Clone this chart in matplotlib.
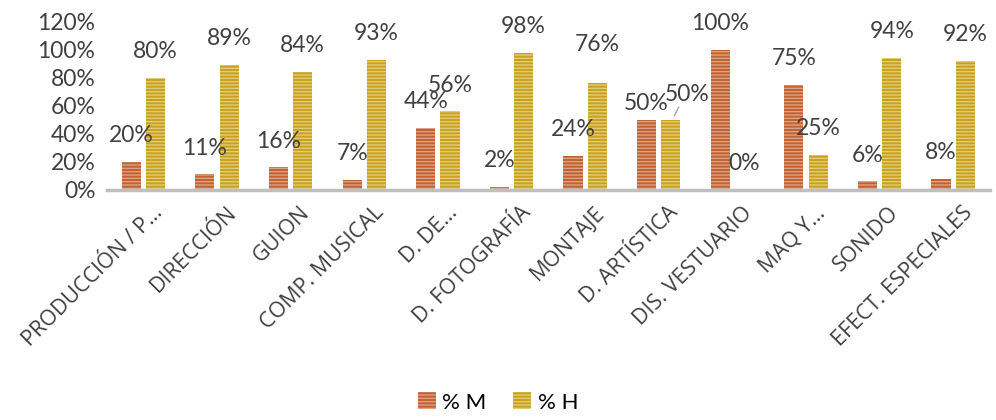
import matplotlib.pyplot as plt
import numpy as np

plt.rcParams["hatch.linewidth"] = 1.0

categories = ["PRODUCCIÓN / P…", "DIRECCIÓN", "GUION", "COMP. MUSICAL", "D. DE…",
              "D. FOTOGRAFÍA", "MONTAJE", "D. ARTÍSTICA", "DIS. VESTUARIO", "MAQ Y…",
              "SONIDO", "EFECT. ESPECIALES"]
pct_m = [20, 11, 16, 7, 44, 2, 24, 50, 100, 75, 6, 8]
pct_h = [80, 89, 84, 93, 56, 98, 76, 50, 0, 25, 94, 92]

# label offsets in points (dx, dy) from the bar top
off_m = {7: (0, 12)}
off_h = {6: (0, 28), 7: (12, 18)}

c_m = "#C2612F"
c_h = "#C9A11E"
txt = "#404040"

fig = plt.figure(figsize=(9.96, 4.2), dpi=100)
ax = fig.add_axes([0.107, 0.548, 0.887, 0.4])

x = np.arange(len(categories))
w = 0.26
gap = 0.07
bm = ax.bar(x - (w + gap) / 2, [v / 100 for v in pct_m], w, color=c_m,
            edgecolor="#DDA283", hatch="-----", linewidth=0, label="% M")
bh = ax.bar(x + (w + gap) / 2, [v / 100 for v in pct_h], w, color=c_h,
            edgecolor="#E4CB78", hatch="-----", linewidth=0, label="% H")

for bars, vals, offs in [(bm, pct_m, off_m), (bh, pct_h, off_h)]:
    for i, (b, v) in enumerate(zip(bars, vals)):
        dx, dy = offs.get(i, (0, 19))
        cx = b.get_x() + b.get_width() / 2
        ax.annotate(f"{v}%", (cx, v / 100), xytext=(dx, dy), textcoords="offset points",
                    ha="center", va="center", fontsize=16.5, color=txt, family="Lato")
        if i == 7 and bars is bh:
            ax.annotate("", (cx + 0.03, v / 100 + 0.01), xytext=(5, 10),
                        textcoords="offset points",
                        arrowprops=dict(arrowstyle="-", color="#A6A6A6", lw=1))

ax.set_ylim(0, 1.2)
ax.set_xlim(-0.5, len(categories) - 0.5)
ticks = np.arange(0, 1.21, 0.2)
ax.set_yticks(ticks)
ax.set_yticklabels([f"{int(round(t * 100))}%" for t in ticks],
                   fontsize=16.5, color=txt, family="Lato")
ax.set_xticks(x + 0.12)
ax.set_xticklabels(categories, rotation=45, ha="right", rotation_mode="anchor",
                   fontsize=15.5, color=txt, family="Open Sans")
ax.tick_params(axis="both", length=0)
ax.tick_params(axis="x", pad=9)
ax.tick_params(axis="y", pad=8)
for s in ["top", "right", "left"]:
    ax.spines[s].set_visible(False)
ax.spines["bottom"].set_color("#BFBFBF")
ax.spines["bottom"].set_linewidth(2.5)

fig.legend(handles=[bm, bh], loc="lower center", bbox_to_anchor=(0.5, -0.03), ncol=2,
           frameon=False, handlelength=0.8, handleheight=0.8,
           handletextpad=0.3, columnspacing=1.2,
           prop={"family": "Lato", "size": 16})

fig.savefig("out.png", dpi=100)
